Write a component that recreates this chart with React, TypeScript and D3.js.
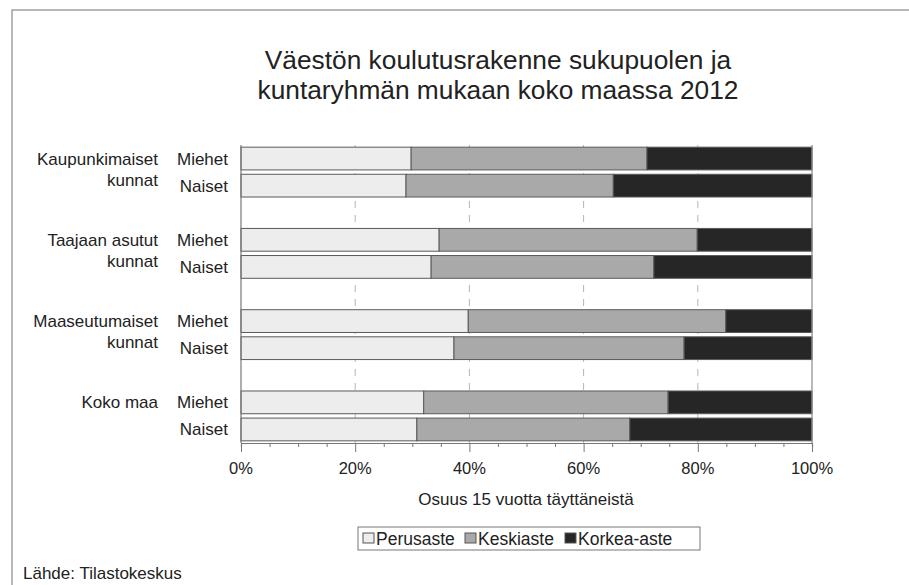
import { useEffect, useRef } from "react";
import * as d3 from "d3";

const titleLines = ["Väestön koulutusrakenne sukupuolen ja", "kuntaryhmän mukaan koko maassa 2012"];
const groupLabels = [["Kaupunkimaiset", "kunnat"], ["Taajaan asutut", "kunnat"], ["Maaseutumaiset", "kunnat"], ["Koko maa"]];
const genders = ["Miehet", "Naiset"];
const seriesNames = ["Perusaste", "Keskiaste", "Korkea-aste"];
// rows: group x gender (Miehet, Naiset)
const perusaste = [29.8, 28.9, 34.7, 33.3, 39.8, 37.3, 32.0, 30.8];
const keskiaste = [41.3, 36.3, 45.2, 39.0, 45.1, 40.3, 42.8, 37.3];
const korkeaAste = [28.9, 34.8, 20.1, 27.7, 15.1, 22.4, 25.2, 31.9];
const xTicks = [0, 20, 40, 60, 80, 100];
const xLabel = "Osuus 15 vuotta täyttäneistä";
const source = "Lähde: Tilastokeskus";

const colors = ["#ededed", "#a9a9a9", "#262626"];
const font = "Arial, 'Liberation Sans', sans-serif";

export default function App() {
  const svgRef = useRef<SVGSVGElement | null>(null);

  useEffect(() => {
    const svg = d3.select(svgRef.current);
    svg.selectAll("*").remove();

    // outer frame (continues past right/bottom edge)
    svg.append("rect").attr("x", 12).attr("y", 10).attr("width", 1000).attr("height", 1000)
      .attr("fill", "#fff").attr("stroke", "#8a8a8a").attr("stroke-width", 1.2);

    const left = 241, right = 812, top = 145, bottom = 443;
    const x = d3.scaleLinear().domain([0, 100]).range([left, right]);
    const slots = d3.range(11).map(String);
    const y = d3.scaleBand().domain(slots).range([top, bottom]).paddingInner(0.16).paddingOuter(0.08);

    // title
    svg.append("text").attr("x", 498).attr("y", 69).attr("text-anchor", "middle")
      .style("font-family", font).style("font-size", "26.3px").attr("fill", "#222")
      .selectAll("tspan").data(titleLines).join("tspan")
      .attr("x", 498).attr("dy", (_d, i) => i === 0 ? 0 : 30).text(d => d);

    // grid
    const g = svg.append("g");
    g.selectAll(".grid").data(xTicks.slice(1, -1)).join("line")
      .attr("x1", d => x(d)).attr("x2", d => x(d)).attr("y1", top).attr("y2", bottom)
      .attr("stroke", "#b5b5b5").attr("stroke-width", 1).attr("stroke-dasharray", "7 7");

    const rows = perusaste.map((p, i) => {
      const k = keskiaste[i], h = korkeaAste[i];
      const slot = String(Math.floor(i / 2) * 3 + (i % 2));
      return { slot, vals: [p, k, h] };
    });

    rows.forEach(r => {
      let acc = 0;
      r.vals.forEach((v, si) => {
        g.append("rect")
          .attr("x", x(acc)).attr("width", x(acc + v) - x(acc))
          .attr("y", y(r.slot)!).attr("height", y.bandwidth())
          .attr("fill", colors[si]).attr("stroke", "#5a5a5a").attr("stroke-width", 1);
        acc += v;
      });
    });

    // axes
    g.append("line").attr("x1", left).attr("x2", left).attr("y1", top).attr("y2", bottom).attr("stroke", "#777").attr("stroke-width", 1.2);
    g.append("line").attr("x1", right).attr("x2", right).attr("y1", top).attr("y2", bottom).attr("stroke", "#8a8a8a").attr("stroke-width", 1.2);
    const xAxis = svg.append("g").attr("transform", `translate(0,${bottom})`)
      .call(d3.axisBottom(x).tickValues(d3.range(0, 101, 5)).tickSize(4).tickFormat(() => ""));
    xAxis.select(".domain").attr("stroke", "#777").attr("stroke-width", 1.2);
    xAxis.selectAll(".tick line").attr("stroke", "#777")
      .attr("y2", (d: any) => (d % 20 === 0 ? 9 : 4));

    svg.append("g").selectAll("text").data(xTicks).join("text")
      .attr("x", d => x(d)).attr("y", 474).attr("text-anchor", "middle")
      .style("font-family", font).style("font-size", "16.5px").attr("fill", "#222")
      .text(d => `${d}%`);

    svg.append("text").attr("x", 526).attr("y", 505).attr("text-anchor", "middle")
      .style("font-family", font).style("font-size", "17px").attr("fill", "#222").text(xLabel);

    // category labels
    const labels = svg.append("g").style("font-family", font).style("font-size", "17px").attr("fill", "#222");
    rows.forEach((r, i) => {
      labels.append("text").attr("x", 228).attr("y", y(r.slot)! + y.bandwidth() / 2 + 6)
        .attr("text-anchor", "end").text(genders[i % 2]);
    });
    groupLabels.forEach((lines, gi) => {
      const y0 = y(String(gi * 3))! + y.bandwidth() / 2 + 6;
      lines.forEach((t, li) => {
        labels.append("text").attr("x", 158).attr("y", y0 + li * 21).attr("text-anchor", "end").text(t);
      });
    });

    // legend
    const lg = svg.append("g");
    lg.append("rect").attr("x", 358).attr("y", 527).attr("width", 342).attr("height", 23)
      .attr("fill", "#fff").attr("stroke", "#777").attr("stroke-width", 1);
    const itemX = [363, 465, 565];
    seriesNames.forEach((n, i) => {
      lg.append("rect").attr("x", itemX[i]).attr("y", 533).attr("width", 11).attr("height", 10)
        .attr("fill", colors[i]).attr("stroke", "#555").attr("stroke-width", 1);
      lg.append("text").attr("x", itemX[i] + 13).attr("y", 545)
        .style("font-family", font).style("font-size", "17.5px").attr("fill", "#222").text(n);
    });

    svg.append("text").attr("x", 23).attr("y", 579)
      .style("font-family", font).style("font-size", "17px").attr("fill", "#222").text(source);
  }, []);

  return (
    <svg ref={svgRef} width={909} height={585}
      style={{ position: "absolute", left: 0, top: 0, background: "#fff" }} />
  );
}
